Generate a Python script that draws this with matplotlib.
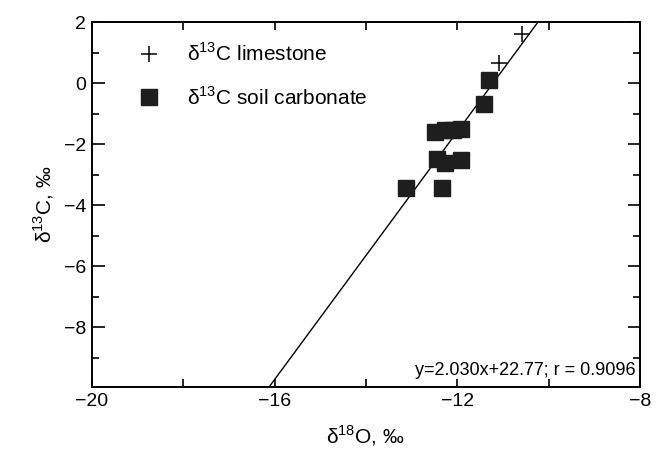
import matplotlib
matplotlib.use('Agg')
import matplotlib.pyplot as plt
import numpy as np

plt.rcParams['font.family'] = ['Liberation Sans', 'DejaVu Sans']
plt.rcParams['mathtext.fontset'] = 'custom'
plt.rcParams['mathtext.rm'] = 'Liberation Sans'

# d18O / d13C values
lime_o = [-10.59, -11.08]
lime_c = [1.61, 0.65]

soil_o = [-11.30, -11.42, -12.48, -12.27, -12.09, -11.91, -12.45, -12.27, -11.91, -13.12, -12.34]
soil_c = [0.10, -0.67, -1.60, -1.55, -1.52, -1.49, -2.47, -2.63, -2.53, -3.45, -3.42]

slope = 2.030
intercept = 22.77
r_val = 0.9096

xmin, xmax = -20, -8
ymin, ymax = -9.95, 2

fig = plt.figure(figsize=(6.61, 4.51), dpi=100)
ax = fig.add_axes([0.139, 0.142, 0.829, 0.809])

ax.set_xlim(xmin, xmax)
ax.set_ylim(ymin, ymax)

# regression line across the visible range
ly = np.array([ymin, ymax])
lx = (ly - intercept) / slope
ax.plot(lx, ly, color='black', lw=1.0, zorder=2)

ax.plot(lime_o, lime_c, linestyle='none', marker='+', markersize=12,
        markeredgewidth=1.1, color='black', label=r'δ$^{13}$C limestone', zorder=3)
ax.plot(soil_o, soil_c, linestyle='none', marker='s', markersize=12,
        color='#1e1e1e', label=r'δ$^{13}$C soil carbonate', zorder=3)

ax.set_xticks([-20, -16, -12, -8])
ax.set_xticklabels(['\u221220', '\u221216', '\u221212', '\u22128'])
ax.set_xticks([-18, -14, -10], minor=True)
ax.set_yticks([-8, -6, -4, -2, 0, 2])
ax.set_yticklabels(['\u22128', '\u22126', '\u22124', '\u22122', '0', '2'])
ax.set_yticks([-9, -7, -5, -3, -1, 1], minor=True)

ax.tick_params(which='both', direction='in', top=True, right=True,
               labelsize=14, width=1.2, colors='black')
ax.tick_params(axis='x', which='both', length=6, pad=4)
ax.tick_params(axis='y', which='major', length=9, pad=4)
ax.tick_params(axis='y', which='minor', length=5)
for s in ax.spines.values():
    s.set_linewidth(1.4)

ax.set_xlabel(r'δ$^{18}$O, ‰', fontsize=15, labelpad=10)
ax.set_ylabel(r'δ$^{13}$C, ‰', fontsize=15, labelpad=6)

ax.text(0.992, 0.022, 'y=%.3fx+%.2f; r = %.4f' % (slope, intercept, r_val),
        transform=ax.transAxes, ha='right', va='bottom', fontsize=13)

ax.legend(loc='upper left', bbox_to_anchor=(0.04, 0.995), frameon=False,
          fontsize=15, handletextpad=1.0, labelspacing=1.0, handlelength=1.6)

fig.savefig('out.png', dpi=100)
